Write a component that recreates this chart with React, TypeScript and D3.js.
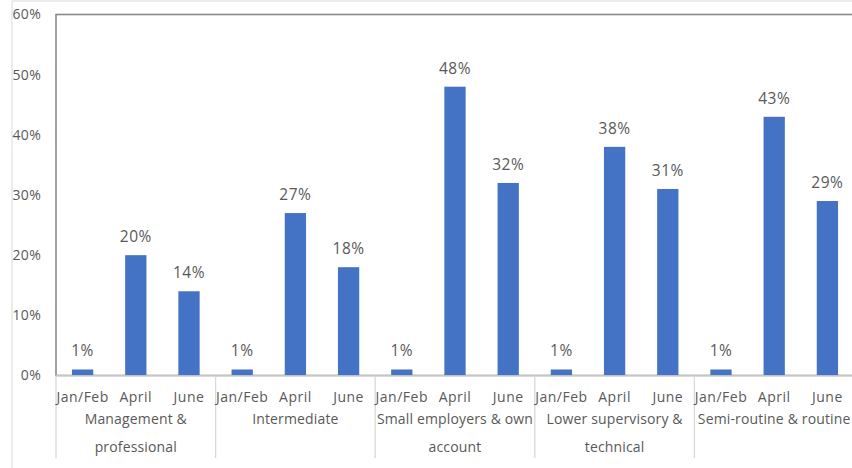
import React from "react";
import * as d3 from "d3";

const groups = [
  ["Management &", "professional"],
  ["Intermediate"],
  ["Small employers & own", "account"],
  ["Lower supervisory &", "technical"],
  ["Semi-routine & routine"],
];
const periods = ["Jan/Feb", "April", "June"];
const janFeb = [1, 1, 1, 1, 1];
const april = [20, 27, 48, 38, 43];
const june = [14, 18, 32, 31, 29];
const yTicks = [0, 10, 20, 30, 40, 50, 60];

const W = 852;
const H = 468;
const left = 56;
const right = 854;
const top = 14.5;
const bottom = 375.5;
const FONT = "'Open Sans', 'Noto Sans', sans-serif";
const TXT = "#595959";
const BAR = "#4472C4";

export default function App() {
  const series = [janFeb, april, june];
  const groupKeys = groups.map((g, i) => String(i));
  const x0 = d3.scaleBand<string>().domain(groupKeys).range([left, right]).padding(0);
  const x1 = d3
    .scaleBand<string>()
    .domain(periods)
    .range([0, x0.bandwidth()])
    .paddingInner(0.6)
    .paddingOuter(0.3);
  const y = d3.scaleLinear().domain([0, 60]).range([bottom, top]);

  return (
    <div style={{ position: "fixed", left: 0, top: 0 }}>
      <svg width={W} height={H} style={{ display: "block", background: "#fff" }}>
        {/* outer chart border */}
        <line x1={12} y1={1} x2={W + 10} y2={1} stroke="#d9d9d9" strokeWidth={1} />
        <line x1={12} y1={1} x2={12} y2={H + 10} stroke="#d9d9d9" strokeWidth={1} />
        {/* plot area border */}
        <rect x={left} y={top} width={W + 20 - left} height={bottom - top} fill="none" stroke="#8a8a8a" strokeWidth={1.6} />
        {/* y tick labels */}
        {yTicks.map((t) => (
          <text key={t} x={41} y={y(t)} dy="0.35em" textAnchor="end" fontFamily={FONT} fontSize={14} fill={TXT} letterSpacing={0.3}>
            {t}%
          </text>
        ))}
        {/* bars */}
        {groupKeys.map((gk, gi) =>
          periods.map((p, pi) => {
            const v = series[pi][gi];
            const bx = (x0(gk) as number) + (x1(p) as number);
            const bw = x1.bandwidth();
            return (
              <g key={gk + p}>
                <rect x={bx} y={y(v)} width={bw} height={bottom - y(v)} fill={BAR} />
                <text x={bx + bw / 2} y={y(v) - 13} textAnchor="middle" fontFamily={FONT} fontSize={15.5} fill={TXT} letterSpacing={0.5}>
                  {v}%
                </text>
              </g>
            );
          })
        )}
        {/* category axis */}
        <line x1={left} y1={bottom + 0.5} x2={W + 10} y2={bottom + 0.5} stroke="#d9d9d9" strokeWidth={1.6} />
        {groupKeys.map((gk) => (
          <line key={"s" + gk} x1={x0(gk) as number} y1={bottom} x2={x0(gk) as number} y2={458} stroke="#d9d9d9" strokeWidth={1.3} />
        ))}
        {groupKeys.map((gk) =>
          periods.map((p) => (
            <text key={"t" + gk + p} x={(x0(gk) as number) + (x1(p) as number) + x1.bandwidth() / 2} y={402} textAnchor="middle" fontFamily={FONT} fontSize={14} fill={TXT} letterSpacing={0.5}>
              {p}
            </text>
          ))
        )}
        {groups.map((g, gi) => (
          <text key={"g" + gi} x={(x0(String(gi)) as number) + x0.bandwidth() / 2} textAnchor="middle" fontFamily={FONT} fontSize={14} fill={TXT} letterSpacing={0.15}>
            {g.map((line, li) => (
              <tspan key={li} x={(x0(String(gi)) as number) + x0.bandwidth() / 2} y={424 + li * 28}>
                {line}
              </tspan>
            ))}
          </text>
        ))}
      </svg>
    </div>
  );
}
